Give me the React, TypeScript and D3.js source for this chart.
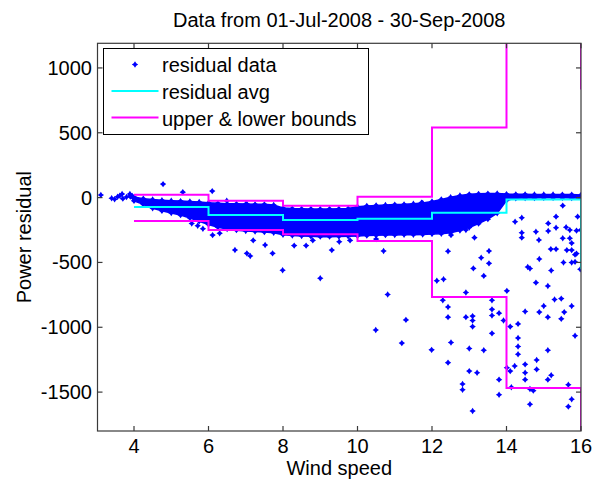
import React from "react";
import * as d3 from "d3";

const W = 597;
const H = 481;
const PL = 97.5, PR = 581, PT = 43.3, PB = 431;

const xTicks = [4, 6, 8, 10, 12, 14, 16];
const yTicks = [-1500, -1000, -500, 0, 500, 1000];

// stair edges (last bin lies beyond the axis)
const binEdges = [4, 6, 8, 10, 12, 14, 16, 18];
const avgLevels = [-73, -134, -173, -163, -116, -15, -544];
const upperLevels = [22, -24, -62, 7, 541, 2500, 841];
const lowerLevels = [-180, -250, -283, -335, -766, -1468, -2500];

// dense band of residual data (envelope)
const bandX = [3.9, 4.0, 4.25, 4.5, 4.75, 5.0, 5.25, 5.5, 5.75, 6.0, 6.25, 6.5, 6.75, 7.0, 7.25, 7.5, 7.75, 8.0, 8.25, 8.5, 8.75, 9.0, 9.25, 9.5, 9.75, 10.0, 10.25, 10.5, 10.75, 11.0, 11.25, 11.5, 11.75, 12.0, 12.25, 12.5, 12.75, 13.0, 13.25, 13.5, 13.75, 14.0, 14.25, 14.5, 14.75, 15.0, 15.25, 15.5, 15.75, 16.0];
const bandTop = [12, 5, -8, -15, -20, -24, -27, -30, -34, -40, -44, -47, -48, -50, -52, -52, -57, -80, -84, -86, -87, -88, -87, -86, -84, -70, -64, -60, -57, -54, -52, -47, -42, -30, -14, 3, 16, 25, 29, 31, 32, 27, 25, 25, 24, 24, 24, 23, 23, 21];
const bandBottom = [8, -25, -52, -82, -102, -119, -135, -157, -182, -208, -228, -242, -251, -258, -262, -266, -271, -286, -292, -296, -299, -301, -301, -300, -298, -296, -293, -291, -289, -288, -286, -286, -284, -281, -279, -271, -254, -231, -201, -166, -121, -22, -5, -3, -3, -2, -2, -2, -3, -5];

// scattered residual points [wind speed, residual]
const outliers: [number, number][] = [
  [3.11, 20], [3.40, -5], [3.48, -13], [3.56, 7], [3.62, 15], [3.68, 28], [3.70, -8], [3.80, 5], [3.89, 28], [3.95, 12],
  [4.78, 104], [5.31, 42], [6.10, 50], [6.49, -24], [7.03, -49],
  [5.55, -200], [5.71, -217], [5.85, -240], [6.11, -289], [6.30, -275], [6.71, -404], [7.03, -430], [7.12, -450], [7.20, -330], [7.52, -365], [7.72, -430], [7.99, -560],
  [8.30, -370], [8.62, -370], [8.80, -330], [9.00, -622], [9.31, -405], [9.51, -341], [9.80, -330], [10.50, -320], [10.70, -412], [10.81, -747], [10.49, -1021], [11.19, -1122], [11.30, -943], [11.72, -39], [11.99, -1174],
  [12.13, -641], [12.31, -630], [12.43, -414], [12.51, -289], [12.91, -250], [13.14, -309], [13.32, -464], [13.53, -412], [13.53, -507], [13.11, -546], [12.29, -792], [12.43, -844], [12.43, -922], [12.51, -1117], [12.43, -1273], [12.91, -732], [12.91, -922], [13.00, -1164], [13.00, -1338], [12.82, -1437], [12.82, -1482], [13.09, -914], [13.09, -948], [13.09, -995], [13.21, -1351], [13.09, -1646], [13.39, -604], [13.39, -1177], [13.61, -792], [13.61, -862], [13.61, -909], [13.61, -1047], [13.80, -891], [13.80, -1404], [13.80, -1521], [13.92, -948],
  [14.01, -719], [14.01, -1312], [14.10, -995], [14.10, -1338], [14.13, -1463], [14.22, -1299], [14.31, -974], [14.31, -1083], [14.31, -1148], [14.31, -1208], [14.23, -186], [14.41, -155], [14.41, -271], [14.41, -309], [14.79, -263], [14.87, -327], [15.12, -199], [15.12, -258], [15.33, -147], [15.33, -232], [15.51, -62], [15.60, -229], [15.70, -250], [15.91, -147], [15.88, -255], [15.99, -250], [15.51, -314], [15.70, -314], [15.75, -351], [15.75, -405], [15.62, -405], [15.19, -397], [15.33, -397], [15.88, -432], [15.84, -496], [14.57, -535], [14.63, -547],
  [14.50, -878], [14.50, -1286], [14.50, -1351], [14.50, -1404], [14.63, -1476], [14.63, -1594], [14.72, -1489], [14.79, -656], [14.81, -1253], [14.81, -1325], [14.88, -474], [14.88, -883], [15.00, -836], [15.11, -682], [15.11, -922], [15.11, -1177], [15.11, -1404], [15.20, -562], [15.20, -1370], [15.29, -786], [15.47, -779], [15.47, -935], [15.53, -500], [15.55, -883], [15.75, -836], [15.75, -500], [15.66, -1443], [15.66, -1612], [15.75, -1555], [15.84, -440], [15.84, -1065], [15.98, -552],
];

const titleText = "Data from 01-Jul-2008 - 30-Sep-2008";
const xLabel = "Wind speed";
const yLabel = "Power residual";
const legendLabels = ["residual data", "residual avg", "upper & lower bounds"];

const FONT = "'Liberation Sans', Arial, Helvetica, sans-serif";
const BLUE = "#0000ff";
const CYAN = "#00ffff";
const MAGENTA = "#ff00ff";
const AXIS = "#3a3a3a";

const markerPath = "M0,-3.2L1.3,-1.3L3.2,0L1.3,1.3L0,3.2L-1.3,1.3L-3.2,0L-1.3,-1.3Z";

export default function App() {
  const x = d3.scaleLinear().domain([3.02, 16]).range([PL, PR]);
  const y = d3.scaleLinear().domain([-1800, 1190]).range([PB, PT]);

  const stairs = (levels: number[]) => {
    const pts: [number, number][] = binEdges.map((e, i) => [e, levels[Math.min(i, levels.length - 1)]]);
    return d3
      .line<[number, number]>()
      .x((d) => x(d[0]))
      .y((d) => y(d[1]))
      .curve(d3.curveStepAfter)(pts) as string;
  };

  const bandIdx = bandX.map((_, i) => i);
  const bandArea = d3
    .area<number>()
    .x((i) => x(bandX[i]))
    .y0((i) => y(bandBottom[i]))
    .y1((i) => y(bandTop[i]))(bandIdx) as string;

  const edgePts: [number, number][] = [
    ...bandX.map((bx, i) => [bx, bandTop[i]] as [number, number]),
    ...bandX.map((bx, i) => [bx, bandBottom[i]] as [number, number]),
  ];

  const tickLen = 5;

  return (
    <svg width={W} height={H} style={{ position: "absolute", left: 0, top: 0, background: "#fff" }} fontFamily={FONT}>
      <rect x={0} y={0} width={W} height={H} fill="#fff" />
      <defs>
        <clipPath id="plotClip">
          <rect x={PL} y={PT} width={PR - PL} height={PB - PT} />
        </clipPath>
      </defs>
      <g clipPath="url(#plotClip)">
        <path d={bandArea} fill={BLUE} stroke={BLUE} strokeWidth={1.5} />
        {edgePts.map((p, i) => (
          <path key={"e" + i} d={markerPath} transform={`translate(${x(p[0])},${y(p[1])})`} fill={BLUE} />
        ))}
        {outliers.map((p, i) => (
          <path key={"o" + i} d={markerPath} transform={`translate(${x(p[0])},${y(p[1])})`} fill={BLUE} />
        ))}
        <path d={stairs(avgLevels)} fill="none" stroke={CYAN} strokeWidth={2} />
        <path d={stairs(upperLevels)} fill="none" stroke={MAGENTA} strokeWidth={2} />
        <path d={stairs(lowerLevels)} fill="none" stroke={MAGENTA} strokeWidth={2} />
      </g>

      {/* axes box */}
      <rect x={PL} y={PT} width={PR - PL} height={PB - PT} fill="none" stroke={AXIS} strokeWidth={1.2} />
      {xTicks.map((t) => (
        <g key={"xt" + t}>
          <line x1={x(t)} x2={x(t)} y1={PB} y2={PB - tickLen} stroke={AXIS} strokeWidth={1.2} />
          <line x1={x(t)} x2={x(t)} y1={PT} y2={PT + tickLen} stroke={AXIS} strokeWidth={1.2} />
          <text x={x(t)} y={453} fontSize={20} textAnchor="middle" fill="#000">
            {t}
          </text>
        </g>
      ))}
      {yTicks.map((t) => (
        <g key={"yt" + t}>
          <line x1={PL} x2={PL + tickLen} y1={y(t)} y2={y(t)} stroke={AXIS} strokeWidth={1.2} />
          <line x1={PR} x2={PR - tickLen} y1={y(t)} y2={y(t)} stroke={AXIS} strokeWidth={1.2} />
          <text x={92} y={y(t) + 7} fontSize={20} textAnchor="end" fill="#000">
            {t}
          </text>
        </g>
      ))}

      <text x={(PL + PR) / 2} y={27} fontSize={20} textAnchor="middle" fill="#000">
        {titleText}
      </text>
      <text x={(PL + PR) / 2} y={475} fontSize={20} textAnchor="middle" fill="#000">
        {xLabel}
      </text>
      <text transform={`translate(31,${(PT + PB) / 2}) rotate(-90)`} fontSize={20} textAnchor="middle" fill="#000">
        {yLabel}
      </text>

      {/* legend */}
      <g>
        <rect x={103.5} y={48.5} width={265} height={86} fill="#fff" stroke="#000" strokeWidth={1} />
        <path d={markerPath} transform="translate(135,64.5)" fill={BLUE} />
        <line x1={111.5} x2={158.5} y1={91} y2={91} stroke={CYAN} strokeWidth={2} />
        <line x1={111.5} x2={158.5} y1={117.5} y2={117.5} stroke={MAGENTA} strokeWidth={2} />
        {legendLabels.map((l, i) => (
          <text key={l} x={162} y={71.7 + i * 27} fontSize={20} fill="#000">
            {l}
          </text>
        ))}
      </g>
    </svg>
  );
}
